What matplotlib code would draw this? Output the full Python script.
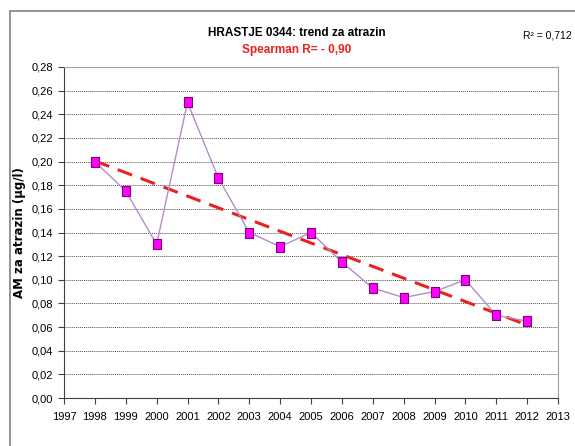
import numpy as np
import matplotlib.pyplot as plt
from matplotlib.patches import Rectangle

# letne vrednosti (AM atrazin, µg/l)
years = [1998, 1999, 2000, 2001, 2002, 2003, 2004, 2005,
         2006, 2007, 2008, 2009, 2010, 2011, 2012]
am_atrazin = [0.200, 0.175, 0.130, 0.250, 0.186, 0.140, 0.128, 0.140,
              0.115, 0.093, 0.085, 0.090, 0.100, 0.070, 0.065]
y_ticks = [0.00, 0.02, 0.04, 0.06, 0.08, 0.10, 0.12, 0.14,
           0.16, 0.18, 0.20, 0.22, 0.24, 0.26, 0.28]
x_ticks = list(range(1997, 2014))

plt.rcParams['font.family'] = ['Liberation Sans', 'DejaVu Sans']

fig = plt.figure(figsize=(5.75, 4.46), dpi=100)
ax = fig.add_axes([64 / 575, 1 - 398 / 446, (558 - 64) / 575, (398 - 67) / 446])

# outer chart frame
fig.patches.append(Rectangle((10 / 575, -0.1), 1.2, 1 - 11 / 446 + 0.1,
                             transform=fig.transFigure, fill=False,
                             edgecolor='#808080', linewidth=1.2))

# linear trend
x = np.array(years, dtype=float)
y = np.array(am_atrazin)
k, n = np.polyfit(x, y, 1)
ax.plot(x, k * x + n, color='#e8231f', linestyle=(0, (5, 3)), linewidth=2.2, zorder=3)

# slightly tall rectangular markers
box = [(-0.4, -0.5), (0.4, -0.5), (0.4, 0.5), (-0.4, 0.5), (-0.4, -0.5)]
ax.plot(years, am_atrazin, color='#b48cc8', linewidth=1.0, marker=box,
        markersize=7.5, markerfacecolor='#ff00ff', markeredgecolor='#800080',
        markeredgewidth=0.8, zorder=4)

ax.set_xlim(1997, 2013)
ax.set_ylim(0, 0.28)
ax.set_xticks(x_ticks)
ax.set_yticks(y_ticks)
ax.set_yticklabels([f'{v:.2f}'.replace('.', ',') for v in y_ticks])
ax.tick_params(axis='both', labelsize=8, length=4, width=0.8, color='#404040', pad=4)
ax.tick_params(axis='x', pad=6)

for v in y_ticks[1:-1]:
    ax.axhline(v, color='#505050', linestyle=(0, (1, 1)), linewidth=0.7, zorder=1)

ax.spines['left'].set_color('#404040')
ax.spines['bottom'].set_color('#404040')
ax.spines['top'].set_color('#a0a0a0')
ax.spines['right'].set_color('#a0a0a0')

ax.set_ylabel('AM za atrazin (µg/l)', fontsize=8.5, fontweight='bold',
              family=['DejaVu Sans'])
ax.yaxis.set_label_coords((26 - 64) / 494, 0.5)

fig.text(297 / 575, 1 - 33 / 446, 'HRASTJE 0344: trend za atrazin', ha='center',
         va='center', fontsize=8.5, fontweight='bold')
fig.text(297 / 575, 1 - 50 / 446, 'Spearman R= - 0,90', ha='center',
         va='center', fontsize=8.5, fontweight='bold', color='#e8231f')
fig.text(572 / 575, 1 - 36 / 446, 'R² = 0,712', ha='right', va='center',
         fontsize=7.5)

fig.savefig('out.png', dpi=100)
